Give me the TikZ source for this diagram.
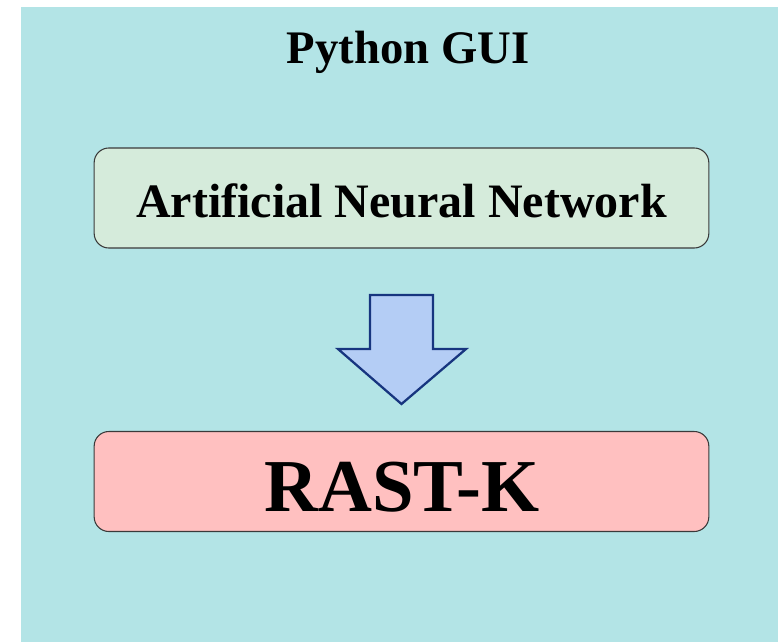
\documentclass[tikz,border=0pt]{standalone}
\usepackage{fontspec}
\setmainfont{Liberation Serif}
\definecolor{panelbg}{HTML}{B3E4E6}
\definecolor{annfill}{HTML}{D5EBDB}
\definecolor{rastfill}{HTML}{FFC0C0}
\definecolor{arrowfill}{HTML}{B4CDF5}
\definecolor{arrowline}{HTML}{17357F}
\definecolor{boxline}{HTML}{3A3A3A}
\begin{document}
\begin{tikzpicture}[x=0.75pt,y=-0.75pt,
  stage/.style={draw=boxline,line width=0.8pt,rounded corners=11pt,
    minimum width=461pt,minimum height=75pt,inner sep=0pt},
  stagetext/.style={font=\bfseries,inner sep=0pt},
]
  % page and panel
  \useasboundingbox (0,0) rectangle (778,642);
  \fill[white] (0,0) rectangle (778,642);
  \fill[panelbg] (21,7) rectangle (778,642);

  \node[font=\bfseries\fontsize{35}{40}\selectfont] (title) at (408,52) {Python GUI};

  % the two stages
  \node[stage,fill=annfill] (ann) at (401.5,198) {};
  \node[stagetext,font=\bfseries\fontsize{36}{40}\selectfont] (anntext) at (401.5,201)
    {Artificial Neural Network};
  \node[stage,fill=rastfill] (rast) at (401.5,481.5) {};
  \node[stagetext,font=\bfseries\fontsize{56}{60}\selectfont] (rasttext) at (402,487)
    {RAST-K};

  % block arrow between the two stages
  \draw[draw=arrowline,fill=arrowfill,line width=1.7pt,line join=miter]
    (370,295) -- (433,295) -- (433,349) -- (466,349) -- (401.5,404)
    -- (338,349) -- (370,349) -- cycle;
\end{tikzpicture}
\end{document}
